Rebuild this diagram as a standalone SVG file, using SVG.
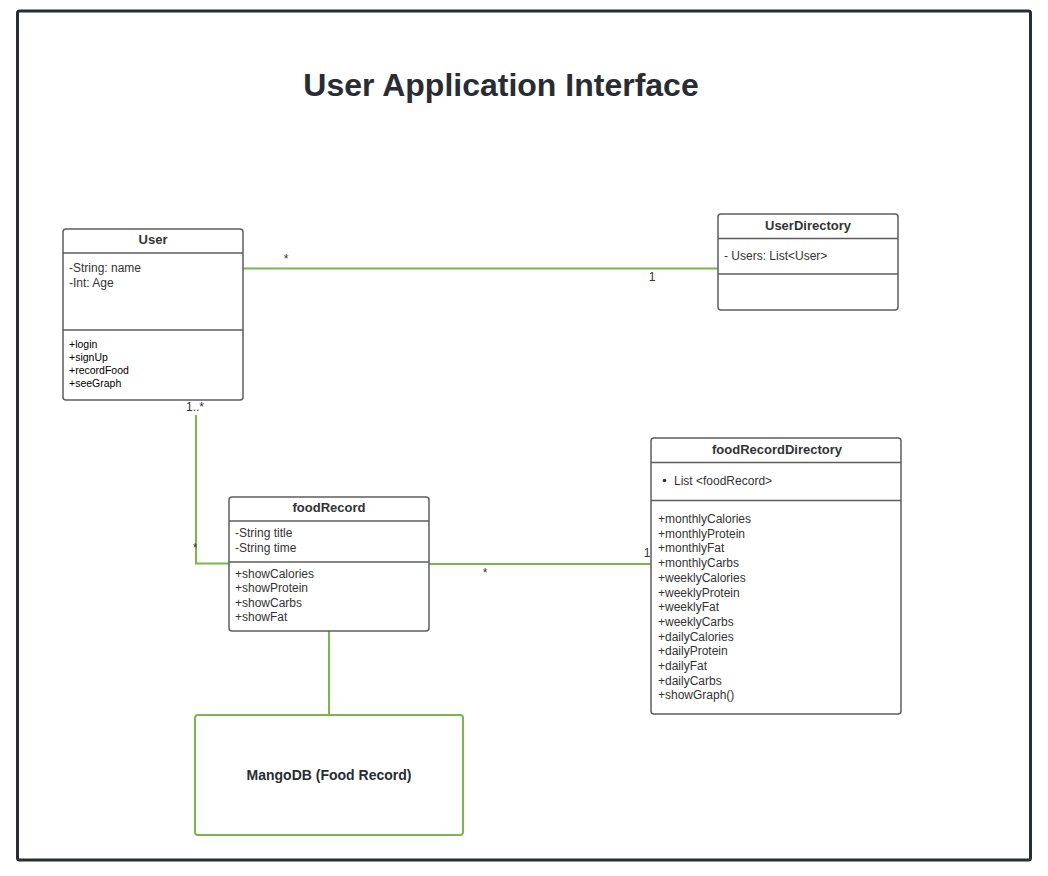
<svg xmlns="http://www.w3.org/2000/svg" width="1048" height="876" viewBox="0 0 1048 876">
<style>
text{font-family:"Liberation Sans",Arial,sans-serif;fill:#333333}
.box{fill:#ffffff;stroke:#5e5e5e;stroke-width:1.5}
.div{stroke:#5e5e5e;stroke-width:1.5}
.ttl{font-weight:bold;font-size:13px;text-anchor:middle}
.a{font-size:12px}
.s{font-size:10.5px;fill:#000}
.lbl{font-size:12px}
.con{fill:none;stroke:#7ab648;stroke-width:2}
</style>
<rect width="1048" height="876" fill="#ffffff"/>
<rect x="17.5" y="11" width="1013" height="849" fill="none" stroke="#282c33" stroke-width="3" rx="2"/>
<text x="501" y="96" style="font-size:32px;font-weight:bold;text-anchor:middle;fill:#282c33">User Application Interface</text>

<g id="connectors">
<path class="con" d="M243 268.5H718"/>
<path class="con" d="M196 415V563.5H229"/>
<path class="con" d="M429 564H651"/>
<path class="con" d="M329 631V715"/>
<text class="lbl" x="286" y="263" text-anchor="middle">*</text>
<text class="lbl" x="652" y="281" text-anchor="middle">1</text>
<text class="lbl" x="195" y="411" text-anchor="middle">1..*</text>
<text class="lbl" x="195" y="552" text-anchor="middle">*</text>
<text class="lbl" x="485" y="577" text-anchor="middle">*</text>
<text class="lbl" x="647" y="557" text-anchor="middle">1</text>
</g>

<g id="User">
<rect class="box" x="63" y="229" width="180" height="171" rx="3"/>
<path class="div" d="M63 253H243M63 330H243"/>
<text class="ttl" x="153" y="244">User</text>
<text class="a" x="69" y="272">-String: name</text>
<text class="a" x="69" y="287">-Int: Age</text>
<text class="s" x="69" y="348">+login</text>
<text class="s" x="69" y="361">+signUp</text>
<text class="s" x="69" y="374">+recordFood</text>
<text class="s" x="69" y="387">+seeGraph</text>
</g>

<g id="UserDirectory">
<rect class="box" x="718" y="214" width="180" height="96" rx="3"/>
<path class="div" d="M718 238.5H898M718 274H898"/>
<text class="ttl" x="808" y="230">UserDirectory</text>
<text class="a" x="724" y="260">- Users: List&lt;User&gt;</text>
</g>

<g id="foodRecordDirectory">
<rect class="box" x="651" y="438" width="250" height="276" rx="3"/>
<path class="div" d="M651 462.5H901M651 500.5H901"/>
<text class="ttl" x="777" y="454">foodRecordDirectory</text>
<circle cx="664.5" cy="480.5" r="1.8" fill="#333"/>
<text class="a" x="674" y="485">List &lt;foodRecord&gt;</text>
<text class="a" x="658" y="523">+monthlyCalories</text>
<text class="a" x="658" y="537.7">+monthlyProtein</text>
<text class="a" x="658" y="552.4">+monthlyFat</text>
<text class="a" x="658" y="567.1">+monthlyCarbs</text>
<text class="a" x="658" y="581.8">+weeklyCalories</text>
<text class="a" x="658" y="596.5">+weeklyProtein</text>
<text class="a" x="658" y="611.2">+weeklyFat</text>
<text class="a" x="658" y="625.9">+weeklyCarbs</text>
<text class="a" x="658" y="640.6">+dailyCalories</text>
<text class="a" x="658" y="655.3">+dailyProtein</text>
<text class="a" x="658" y="670">+dailyFat</text>
<text class="a" x="658" y="684.7">+dailyCarbs</text>
<text class="a" x="658" y="699.4">+showGraph()</text>
</g>

<g id="foodRecord">
<rect class="box" x="229" y="497" width="200" height="134" rx="3"/>
<path class="div" d="M229 521H429M229 562H429"/>
<text class="ttl" x="329" y="512">foodRecord</text>
<text class="a" x="235" y="537">-String title</text>
<text class="a" x="235" y="552">-String time</text>
<text class="a" x="235" y="578">+showCalories</text>
<text class="a" x="235" y="592">+showProtein</text>
<text class="a" x="235" y="607">+showCarbs</text>
<text class="a" x="235" y="621">+showFat</text>
</g>

<g id="MangoDB">
<rect x="195" y="715" width="268" height="120" rx="3" fill="#ffffff" stroke="#7ab648" stroke-width="2"/>
<text x="329" y="780" style="font-size:14px;font-weight:bold;text-anchor:middle;fill:#282c33">MangoDB (Food Record)</text>
</g>
</svg>
